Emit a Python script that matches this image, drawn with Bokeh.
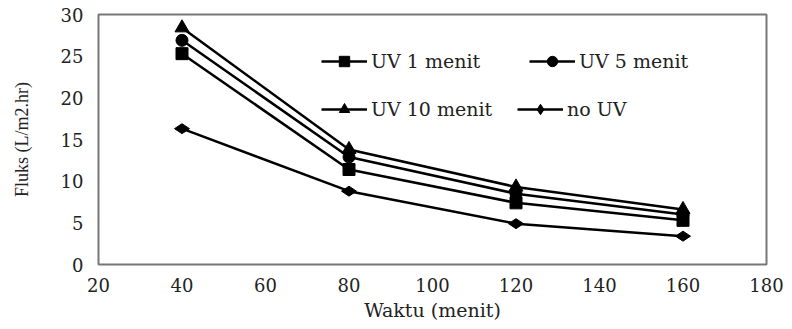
import math
from bokeh.plotting import figure
from bokeh.models import Legend, LegendItem, FixedTicker, Range1d
from bokeh.embed import file_html
from bokeh.resources import INLINE

# ---- data ----
waktu = [40, 80, 120, 160]
uv1 = [25.3, 11.4, 7.4, 5.3]
uv5 = [26.9, 12.9, 8.5, 6.0]
uv10 = [28.4, 13.8, 9.3, 6.6]
no_uv = [16.3, 8.8, 4.9, 3.4]
series_names = ["UV 1 menit", "UV 5 menit", "UV 10 menit", "no UV"]
x_ticks = [20, 40, 60, 80, 100, 120, 140, 160, 180]
y_ticks = [0, 5, 10, 15, 20, 25, 30]

W, H = 784, 321
FW, FH = 668, 250
BL, BT = 98, 14

p = figure(width=W, height=H, output_backend="svg", toolbar_location=None,
           x_range=Range1d(20, 180), y_range=Range1d(0, 30),
           min_border_left=BL, min_border_right=W - BL - FW,
           min_border_top=BT, min_border_bottom=H - BT - FH)
p.frame_width = FW
p.frame_height = FH
p.grid.visible = False
p.outline_line_color = "#777777"
p.outline_line_width = 2
p.background_fill_color = "white"
p.border_fill_color = "white"

for ax in (p.xaxis[0], p.yaxis[0]):
    ax.axis_line_color = None
    ax.major_tick_line_color = None
    ax.minor_tick_line_color = None
    ax.major_tick_out = 0
    ax.major_tick_in = 0
    ax.minor_tick_out = 0
    ax.major_label_text_font = "DejaVu Serif"
    ax.major_label_text_font_size = "18px"
    ax.major_label_text_color = "#222222"
    ax.axis_label_text_font_style = "normal"
    ax.axis_label_text_color = "#222222"

p.xaxis.ticker = FixedTicker(ticks=x_ticks)
p.yaxis.ticker = FixedTicker(ticks=y_ticks)
p.xaxis.major_label_standoff = 13
p.yaxis.major_label_standoff = 15
p.xaxis.axis_label = "Waktu (menit)"
p.xaxis.axis_label_text_font = "DejaVu Serif"
p.xaxis.axis_label_text_font_size = "19px"
p.xaxis.axis_label_standoff = 4
p.yaxis.axis_label = "Fluks (L/m2.hr)"
p.yaxis.axis_label_text_font = "Liberation Serif"
p.yaxis.axis_label_text_font_size = "18px"
p.yaxis.axis_label_standoff = 26

LW = 2.5
C = "black"
r1l = p.line(waktu, uv1, line_color=C, line_width=LW)
r1m = p.scatter(waktu, uv1, marker="square", size=12, color=C)
r2l = p.line(waktu, uv5, line_color=C, line_width=LW)
r2m = p.scatter(waktu, uv5, marker="circle", size=12, color=C)
r3l = p.line(waktu, uv10, line_color=C, line_width=LW)
r3m = p.scatter(waktu, uv10, marker="triangle", size=14, color=C)
r4l = p.line(waktu, no_uv, line_color=C, line_width=LW)
r4m = p.scatter(waktu, no_uv, marker="diamond", size=15, angle=math.pi / 2, color=C)

GH = 26
row1_bottom = FH - 47 - GH // 2
row2_bottom = FH - 95 - GH // 2
legend_specs = [
    (series_names[0], [r1l, r1m], (223, row1_bottom)),
    (series_names[1], [r2l, r2m], (431, row1_bottom)),
    (series_names[2], [r3l, r3m], (223, row2_bottom)),
    (series_names[3], [r4l, r4m], (419, row2_bottom)),
]
for name, rs, loc in legend_specs:
    leg = Legend(items=[LegendItem(label=name, renderers=rs)], location=loc,
                 orientation="horizontal", glyph_width=46, glyph_height=GH,
                 label_height=GH, label_standoff=4, padding=0, margin=0,
                 border_line_alpha=0, background_fill_alpha=0,
                 label_text_font="DejaVu Serif", label_text_font_size="19px",
                 label_text_color="#222222")
    p.add_layout(leg, "center")

open("out.html", "w").write(file_html(p, INLINE))
